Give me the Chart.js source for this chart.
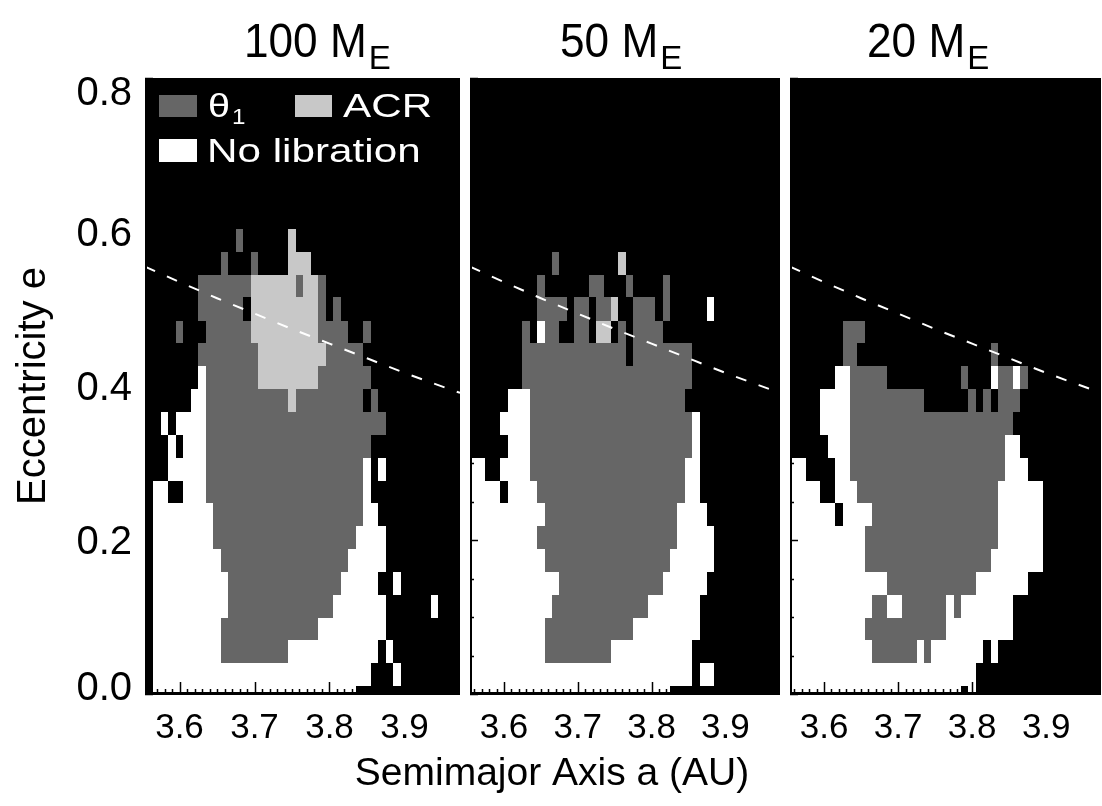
<!DOCTYPE html>
<html>
<head>
<meta charset="utf-8">
<script src="https://cdn.jsdelivr.net/npm/chart.js@4.4.1/dist/chart.umd.min.js"></script>
<style>
  body { margin: 0; background: #fff; }
  #wrap { position: relative; width: 1102px; height: 806px; }
  #wrap canvas { position: absolute; left: 0; top: 0; }
</style>
</head>
<body>
<div id="wrap">
  <canvas id="p100" width="1102" height="806"></canvas>
  <canvas id="p50" width="1102" height="806"></canvas>
  <canvas id="p20" width="1102" height="806"></canvas>
</div>
<script>
// semimajor axis of each grid column (AU)
var semiAxis = [3.56, 3.57, 3.58, 3.59, 3.60, 3.61, 3.62, 3.63, 3.64, 3.65, 3.66, 3.67, 3.68, 3.69,
                3.70, 3.71, 3.72, 3.73, 3.74, 3.75, 3.76, 3.77, 3.78, 3.79, 3.80, 3.81, 3.82, 3.83,
                3.84, 3.85, 3.86, 3.87, 3.88, 3.89, 3.90, 3.91, 3.92, 3.93, 3.94, 3.95, 3.96, 3.97];
// eccentricity of each grid row (bottom row is cut by the axis)
var eccRows = [-0.005, 0.025, 0.055, 0.084, 0.114, 0.144, 0.173, 0.203, 0.233, 0.262, 0.292,
               0.322, 0.352, 0.381, 0.411, 0.441, 0.470, 0.500, 0.530, 0.559, 0.589];
var CELL_DA = 0.01, CELL_DE = 0.0297;

var xTicks = [3.6, 3.7, 3.8, 3.9];
var yTicks = [0.0, 0.2, 0.4, 0.6, 0.8];
var yMinor = [0.05, 0.1, 0.15, 0.25, 0.3, 0.35, 0.45, 0.5, 0.55, 0.65, 0.7, 0.75];
var masses = ['100', '50', '20'];

// white dashed line
var lineA = [3.554, 3.60, 3.65, 3.70, 3.75, 3.80, 3.85, 3.90, 3.974];
var lineE = [0.555, 0.535, 0.514, 0.494, 0.474, 0.455, 0.436, 0.417, 0.391];

// cells per row (row 0 = bottom): runs of columns, g = theta1, l = ACR, w = no libration, rest black
var cells100 = [
  "w1-27",
  "w1-29 w33",
  "w1-9 g10-18 w19-30 w32",
  "w1-9 g10-22 w23-31",
  "w1-10 g11-24 w25-31 w38",
  "w1-10 g11-25 w26-30 w33",
  "w1-9 g10-26 w27-31",
  "w1-8 g9-27 w28-31",
  "w1-8 g9-28 w29-30",
  "w1-2 w5-7 g8-28 w29",
  "w3-7 g8-28 w29 w31",
  "w3 w5-7 g8-29",
  "w2 w4-7 g8-31",
  "w6-7 g8-18 l19 g20-28 g30",
  "w7 g8-14 l15-22 g23-29",
  "g7-14 l15-23 g24-28",
  "g4 g8-13 l14-22 g23-26 g29",
  "g7-12 l14-22 g23 g25",
  "g7-13 l14-19 g20 l21-22 g23",
  "g10 g14 l19-21",
  "g12 l19"
];
var cells50 = [
  "w0-26",
  "w0-29 w31-32",
  "w0-9 g10-18 w19-29",
  "w0-9 g10-21 w22-30",
  "w0-10 g11-23 w24-30",
  "w0-11 g12-25 w26-31",
  "w0-9 g10-26 w27-32",
  "w0-8 g9-27 w28-32",
  "w0-9 g10-27 w28-31",
  "w0-3 w5-8 g9-28 w29-30",
  "w0-1 w4-7 g8-28 w29-30",
  "w5-7 g8-29 w30",
  "w4-7 g8-29 w30",
  "w5-7 g8-28",
  "g7-29",
  "g7-20 g22-29",
  "g7 w9 g10-11 g14-15 l17-18 g20 g22-25",
  "g9-12 g14-15 g17-18 l19 g22-24 g26 w32",
  "g9 g16-17 g21 g26",
  "g11 l20"
];
var cells20 = [
  "w0-22 w24",
  "w0-24",
  "w0-10 g11-16 w17 g18 w19-25 w27",
  "w0-9 g10-20 w21-29",
  "w0-10 g11-12 w13-14 g15-20 w21 g22 w23-29",
  "w0-12 g13-24 w25-31",
  "w0-9 g10-26 w27-33",
  "w0-9 g10-27 w28-33",
  "w0-5 w7-10 g11-27 w28-33",
  "w0-3 w6-8 g9-27 w28-33",
  "w0-1 w6-7 g8-28 w29-31",
  "w5-7 g8-28 w29-30",
  "w4-7 g8-29",
  "w4-7 g8-17 g24 g26 g28-30",
  "w6-7 g8-12 g23 w27 g28-29 w30 g31",
  "g7-8 g27",
  "g7-9"
];

var COLORS = { g: '#666666', l: '#c8c8c8', w: '#ffffff' };
var FONT = "'Liberation Sans', Arial, Helvetica, sans-serif";
var TOP = 78, BOTTOM = 694;

var panels = [
  { id: 'p100', cells: cells100, left: 145, right: 460, titleX: 244, first: true },
  { id: 'p50', cells: cells50, left: 470, right: 780, titleX: 560, middle: true },
  { id: 'p20', cells: cells20, left: 790, right: 1101, titleX: 867 }
];

function text(ctx, str, x, y, size, sx, align) {
  ctx.save();
  ctx.font = size + 'px ' + FONT;
  var w = ctx.measureText(str).width * sx;
  var x0 = align === 'center' ? x - w / 2 : (align === 'right' ? x - w : x);
  ctx.translate(x0, y);
  ctx.scale(sx, 1);
  ctx.textAlign = 'left';
  ctx.textBaseline = 'alphabetic';
  ctx.fillText(str, 0, 0);
  ctx.restore();
  return w;
}

function makePlugin(p, idx) {
  return {
    id: 'panel' + idx,
    beforeDatasetsDraw: function (chart) {
      var ctx = chart.ctx, area = chart.chartArea, xs = chart.scales.x, ys = chart.scales.y;
      ctx.save();
      ctx.fillStyle = '#000';
      ctx.fillRect(area.left, area.top, area.right - area.left, area.bottom - area.top);
      ctx.beginPath();
      ctx.rect(area.left, area.top, area.right - area.left, area.bottom - area.top);
      ctx.clip();
      p.cells.forEach(function (row, r) {
        var eLo = r === 0 ? eccRows[0] - CELL_DE / 2 : (eccRows[r - 1] + eccRows[r]) / 2;
        var eHi = r === eccRows.length - 1 ? eccRows[r] + CELL_DE / 2 : (eccRows[r] + eccRows[r + 1]) / 2;
        var y0 = Math.round(ys.getPixelForValue(eHi));
        var y1 = Math.round(ys.getPixelForValue(eLo));
        row.split(' ').forEach(function (run) {
          if (!run) return;
          var cls = run[0], parts = run.slice(1).split('-');
          var c0 = +parts[0], c1 = parts.length > 1 ? +parts[1] : c0;
          var x0 = Math.round(xs.getPixelForValue(semiAxis[c0] - CELL_DA / 2));
          var x1 = Math.round(xs.getPixelForValue(semiAxis[c1] + CELL_DA / 2));
          ctx.fillStyle = COLORS[cls];
          ctx.fillRect(x0, y0, x1 - x0, y1 - y0);
        });
      });
      ctx.restore();
    },
    afterDatasetsDraw: function (chart) {
      var ctx = chart.ctx, area = chart.chartArea, xs = chart.scales.x, ys = chart.scales.y;
      ctx.save();
      ctx.fillStyle = '#000';
      // axis lines
      ctx.fillRect(area.left, area.bottom - 2, area.right - area.left, 3);
      ctx.fillRect(area.left, area.top, 2, area.bottom - area.top);
      // x ticks, pointing up
      ctx.strokeStyle = '#000';
      ctx.lineWidth = 1.5;
      ctx.beginPath();
      semiAxis.forEach(function (a) {
        var x = Math.round(xs.getPixelForValue(a)) + 0.5;
        var major = xTicks.some(function (t) { return Math.abs(t - a) < 1e-6; });
        ctx.moveTo(x, area.bottom - 1);
        ctx.lineTo(x, area.bottom - (major ? 12 : 5));
      });
      ctx.stroke();
      // y ticks, pointing right
      ctx.beginPath();
      yMinor.concat(yTicks).forEach(function (e) {
        var y = Math.round(ys.getPixelForValue(e)) + 0.5;
        var major = yTicks.indexOf(e) >= 0;
        ctx.moveTo(area.left, y);
        ctx.lineTo(area.left + (major ? 8 : 4), y);
      });
      ctx.stroke();

      // legend (first panel)
      if (p.first) {
        var lx = area.left, ly = area.top;
        ctx.fillStyle = COLORS.g; ctx.fillRect(lx + 14, ly + 17, 38, 22);
        ctx.fillStyle = COLORS.l; ctx.fillRect(lx + 150, ly + 17, 37, 22);
        ctx.fillStyle = COLORS.w; ctx.fillRect(lx + 14, ly + 61, 38, 23);
        ctx.fillStyle = '#fff';
        var wt = text(ctx, '\u03b8', lx + 63, ly + 39, 33, 1.2, 'left');
        text(ctx, '1', lx + 63 + wt + 2, ly + 46, 22, 1.1, 'left');
        text(ctx, 'ACR', lx + 198, ly + 39, 33, 1.28, 'left');
        text(ctx, 'No libration', lx + 62, ly + 84, 33, 1.28, 'left');
      }
      ctx.restore();
    },
    afterDraw: function (chart) {
      var ctx = chart.ctx, area = chart.chartArea, xs = chart.scales.x, ys = chart.scales.y;
      ctx.save();
      ctx.fillStyle = '#000';
      // x tick labels
      xTicks.forEach(function (t) {
        text(ctx, t.toFixed(1), xs.getPixelForValue(t), 738, 35, 1, 'center');
      });
      // y tick labels
      if (p.first) {
        yTicks.forEach(function (e) {
          var yc = Math.min(Math.max(ys.getPixelForValue(e), area.top + 13), area.bottom - 8);
          text(ctx, e.toFixed(1), area.left - 13, yc + 14, 40, 1, 'right');
        });
        ctx.save();
        ctx.translate(45, (area.top + area.bottom) / 2);
        ctx.rotate(-Math.PI / 2);
        text(ctx, 'Eccentricity e', 0, 0, 40, 1, 'center');
        ctx.restore();
      }
      if (p.middle) {
        text(ctx, 'Semimajor Axis a (AU)', 552, 785, 39, 1, 'center');
      }
      // panel title with subscript
      var w = text(ctx, masses[idx] + ' M', p.titleX, 57, 48, 0.92, 'left');
      text(ctx, 'E', p.titleX + w + 2, 69, 33, 1, 'left');
      ctx.restore();
    }
  };
}

panels.forEach(function (p, idx) {
  new Chart(document.getElementById(p.id), {
    type: 'line',
    data: {
      datasets: [{
        data: lineA.map(function (a, i) { return { x: a, y: lineE[i] }; }),
        borderColor: '#ffffff',
        borderWidth: 2,
        borderDash: [11, 13],
        pointRadius: 0,
        fill: false,
        tension: 0
      }]
    },
    options: {
      responsive: false,
      animation: false,
      devicePixelRatio: 1,
      layout: { padding: { left: p.left, right: 1102 - p.right, top: TOP, bottom: 806 - BOTTOM } },
      scales: {
        x: { type: 'linear', min: 3.554, max: 3.974, display: false },
        y: { type: 'linear', min: 0, max: 0.8, display: false }
      },
      plugins: { legend: { display: false }, tooltip: { enabled: false } }
    },
    plugins: [makePlugin(p, idx)]
  });
});
</script>
</body>
</html>
